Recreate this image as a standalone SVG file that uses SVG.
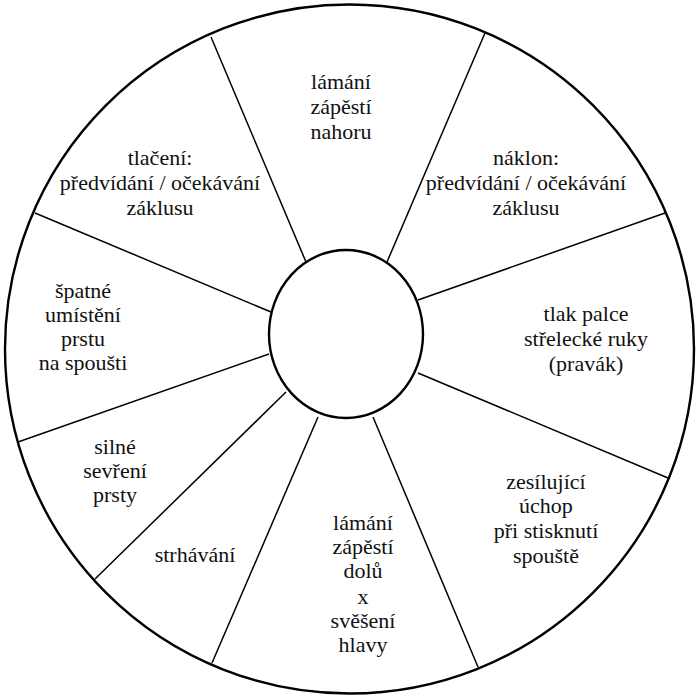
<svg xmlns="http://www.w3.org/2000/svg" width="700" height="700" viewBox="0 0 700 700">
<style>
.t{font-family:"Liberation Serif","Times New Roman",serif;font-size:22px;fill:#111;text-anchor:middle}
.ring{fill:none;stroke:#000;stroke-width:2.4}
.hub{fill:#fff;stroke:#000;stroke-width:2.4}
.spoke{stroke:#000;stroke-width:1.5}
</style>
<rect width="700" height="700" fill="#fff"/>
<circle id="outer" class="ring" cx="349.5" cy="349" r="344.5"/>
<g id="spokes">
<line class="spoke" x1="211" y1="37" x2="306" y2="262"/>
<line class="spoke" x1="485" y1="33" x2="387" y2="262"/>
<line class="spoke" x1="665" y1="213" x2="418" y2="300"/>
<line class="spoke" x1="668" y1="478" x2="418" y2="373"/>
<line class="spoke" x1="478" y1="667" x2="373" y2="417"/>
<line class="spoke" x1="212" y1="663" x2="318" y2="417"/>
<line class="spoke" x1="95" y1="579" x2="286" y2="392"/>
<line class="spoke" x1="18" y1="442" x2="269" y2="354"/>
<line class="spoke" x1="35" y1="213" x2="271" y2="312"/>
</g>
<ellipse id="hub" class="hub" cx="346" cy="334" rx="77" ry="84"/>
<g id="s-top"><text class="t" x="341" y="89">lámání</text><text class="t" x="341" y="114">zápěstí</text><text class="t" x="341" y="139">nahoru</text></g>
<g id="s-topright"><text class="t" x="526" y="165">náklon:</text><text class="t" x="526" y="190">předvídání / očekávání</text><text class="t" x="526" y="215">záklusu</text></g>
<g id="s-right"><text class="t" x="586" y="321">tlak palce</text><text class="t" x="586" y="346">střelecké ruky</text><text class="t" x="586" y="371">(pravák)</text></g>
<g id="s-bottomright"><text class="t" x="546" y="489">zesílující</text><text class="t" x="546" y="513">úchop</text><text class="t" x="546" y="538">při stisknutí</text><text class="t" x="546" y="563">spouště</text></g>
<g id="s-bottom"><text class="t" x="363" y="530">lámání</text><text class="t" x="363" y="554">zápěstí</text><text class="t" x="363" y="578">dolů</text><text class="t" x="363" y="604">x</text><text class="t" x="363" y="628">svěšení</text><text class="t" x="363" y="652">hlavy</text></g>
<g id="s-bottomleft"><text class="t" x="195" y="562">strhávání</text></g>
<g id="s-left"><text class="t" x="115" y="454">silné</text><text class="t" x="115" y="478">sevření</text><text class="t" x="115" y="502">prsty</text></g>
<g id="s-leftupper"><text class="t" x="83" y="298">špatné</text><text class="t" x="83" y="322">umístění</text><text class="t" x="83" y="346">prstu</text><text class="t" x="83" y="370">na spoušti</text></g>
<g id="s-topleft"><text class="t" x="160" y="165">tlačení:</text><text class="t" x="160" y="190">předvídání / očekávání</text><text class="t" x="160" y="215">záklusu</text></g>
</svg>
